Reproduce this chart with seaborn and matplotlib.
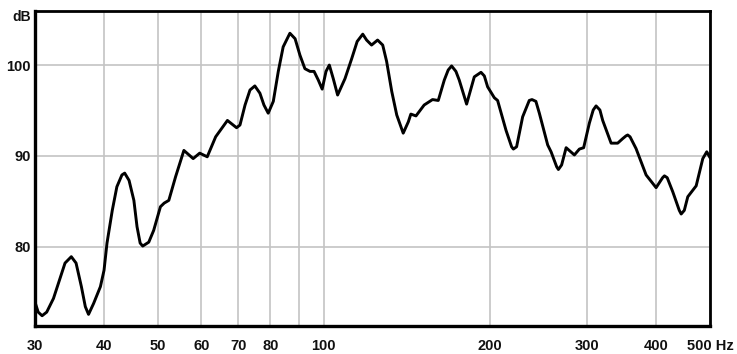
import matplotlib
matplotlib.use("Agg")
import matplotlib.pyplot as plt
import seaborn as sns
import pandas as pd

# Frequency response
freq_hz = [30.0, 30.4, 30.9, 31.5, 32.4, 33.3, 34.0, 34.9, 35.6, 36.4, 37.0, 37.5,
           38.3, 39.4, 40.0, 40.5, 41.4, 42.2, 43.1, 43.6, 44.4, 45.3, 45.9, 46.5,
           47.0, 48.2, 49.2, 50.6, 51.4, 52.4, 53.9, 55.8, 58.0, 59.6, 61.5, 63.7,
           66.9, 69.5, 70.5, 72.0, 73.5, 75.0, 76.6, 77.9, 79.3, 81.0, 82.7, 84.4,
           86.8, 88.7, 90.5, 92.4, 94.4, 96.0, 97.7, 99.3, 100.9, 102.3, 104.0,
           105.9, 109.2, 112.3, 114.9, 117.6, 119.5, 122.0, 125.1, 127.8, 129.9,
           132.7, 135.5, 139.2, 142.2, 143.7, 146.8, 151.9, 157.3, 161.1, 165.2,
           167.9, 170.3, 173.4, 175.8, 181.3, 187.2, 192.5, 195.2, 197.9, 203.5,
           206.3, 213.7, 218.7, 220.3, 223.3, 229.0, 235.4, 238.1, 242.0, 245.5,
           254.2, 257.8, 263.9, 265.8, 269.4, 274.5, 284.1, 290.1, 295.3, 302.4,
           307.3, 311.0, 316.0, 319.7, 331.1, 340.3, 347.5, 352.3, 354.8, 358.3,
           367.4, 383.1, 399.4, 410.4, 413.5, 418.3, 428.1, 439.9, 443.4, 449.2,
           455.8, 472.0, 485.2, 493.3, 498.9, 500.0]
level_db = [73.9, 72.8, 72.4, 72.8, 74.3, 76.5, 78.2, 78.9, 78.2, 75.6, 73.4, 72.55,
            73.75, 75.6, 77.4, 80.4, 84.0, 86.6, 87.9, 88.1, 87.3, 85.1, 82.2, 80.4,
            80.07, 80.5, 81.8, 84.4, 84.8, 85.1, 87.7, 90.6, 89.7, 90.3, 89.9, 92.1,
            93.9, 93.1, 93.4, 95.6, 97.25, 97.7, 96.9, 95.6, 94.7, 96.0, 99.3, 102.0,
            103.5, 102.9, 101.1, 99.6, 99.3, 99.3, 98.35, 97.35, 99.3, 100.0, 98.5,
            96.7, 98.5, 100.7, 102.6, 103.4, 102.75, 102.2, 102.75, 102.2, 100.4,
            97.1, 94.5, 92.5, 93.75, 94.6, 94.4, 95.6, 96.2, 96.1, 98.35,
            99.45, 99.9, 99.3, 98.35, 95.7, 98.7, 99.2, 98.8, 97.6, 96.4,
            96.1, 92.8, 91.0, 90.75, 91.0, 94.3, 96.1, 96.2, 96.0, 94.7,
            91.2, 90.45, 88.8, 88.5, 89.0, 90.9, 90.1, 90.75, 90.9, 93.6,
            95.05, 95.5, 95.05, 93.9, 91.4, 91.4, 91.9, 92.2, 92.3, 92.1,
            90.8, 87.9, 86.5, 87.6, 87.8, 87.6, 86.05, 84.0, 83.6, 84.0,
            85.5, 86.7, 89.7, 90.45, 89.9, 89.8]

x_ticks = [30, 40, 50, 60, 70, 80, 90, 100, 200, 300, 400, 500]
x_tick_labels = ["30", "40", "50", "60", "70", "80", "", "100", "200", "300", "400", "500 Hz"]
y_ticks = [80, 90, 100]
y_tick_labels = ["80", "90", "100"]

sns.set_style("white")
plt.rcParams["font.family"] = ["Liberation Sans", "DejaVu Sans"]

fig = plt.figure(figsize=(7.37, 3.54), dpi=100)
W, H = 737, 354
ax = fig.add_axes([35 / W, 1 - 326 / H, (710 - 35) / W, (326 - 11) / H])

df = pd.DataFrame({"freq": freq_hz, "db": level_db})
sns.lineplot(data=df, x="freq", y="db", ax=ax, color="black", linewidth=2.1,
             sort=False, zorder=3, solid_joinstyle="round", solid_capstyle="round")

ax.set_xscale("log")
ax.set_xlim(30, 500)
ax.set_ylim(71.27, 105.95)
ax.set_xticks(x_ticks)
ax.set_xticklabels(x_tick_labels)
ax.minorticks_off()
ax.set_yticks(y_ticks)
ax.set_yticklabels(y_tick_labels)
ax.set_xlabel("")
ax.set_ylabel("")

ax.grid(True, which="major", color="#c4c4c4", linewidth=1.2, zorder=0)
ax.set_axisbelow(True)

ax.tick_params(axis="both", length=0, labelsize=10.5, colors="black")
ax.tick_params(axis="x", pad=9)
ax.tick_params(axis="y", pad=3)
for lab in ax.get_xticklabels() + ax.get_yticklabels():
    lab.set_fontweight("bold")
    lab.set_color("#111111")

for side in ["left", "bottom"]:
    ax.spines[side].set_linewidth(2.4)
    ax.spines[side].set_color("black")
for side in ["top", "right"]:
    ax.spines[side].set_linewidth(2.0)
    ax.spines[side].set_color("black")

fig.text(22 / W, 1 - 17 / H, "dB", ha="center", va="center", fontsize=10,
         fontweight="bold", color="#111111")

fig.savefig("out.png", dpi=100)
